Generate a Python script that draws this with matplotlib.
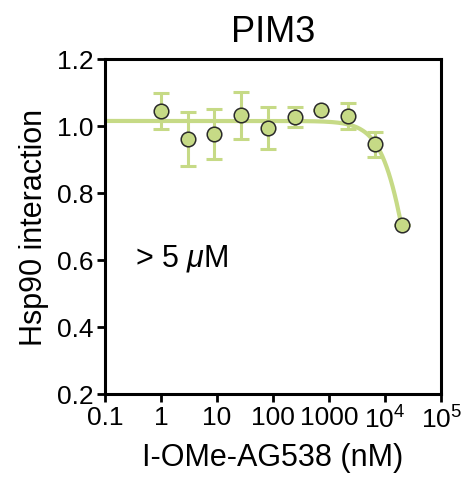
import matplotlib.pyplot as plt
import matplotlib as mpl
import numpy as np

mpl.rcParams['font.family'] = ['Liberation Sans', 'DejaVu Sans']
mpl.rcParams['mathtext.fontset'] = 'custom'
mpl.rcParams['mathtext.it'] = 'Liberation Sans:italic'
mpl.rcParams['mathtext.rm'] = 'Liberation Sans'

# concentration (nM), 3-fold dilution series
conc = [1, 3, 9, 27, 81, 243, 729, 2187, 6561, 19683]
signal = [1.044, 0.962, 0.976, 1.032, 0.993, 1.026, 1.049, 1.030, 0.945, 0.704]
err = [0.053, 0.080, 0.075, 0.070, 0.063, 0.030, 0.0, 0.040, 0.037, 0.0]

# fitted dose-response parameters
fit_top = 1.015
fit_bottom = 0.0
fit_ic50 = 31340.0
fit_hill = 1.715

xticks = [0.1, 1, 10, 100, 1000, 1e4, 1e5]
xticklabels = ['0.1', '1', '10', '100', '1000', '10$^4$', '10$^5$']
yticks = [0.2, 0.4, 0.6, 0.8, 1.0, 1.2]

green = '#c6da86'

fig = plt.figure(figsize=(4.64, 4.81), dpi=100)
ax = fig.add_axes([0.2263, 0.1788, 0.7245, 0.6965])

xfit = np.logspace(-1, np.log10(conc[-1]), 300)
yfit = fit_bottom + (fit_top - fit_bottom) / (1 + (xfit / fit_ic50) ** fit_hill)
ax.plot(xfit, yfit, color=green, lw=3, zorder=2, solid_capstyle='round')

ax.errorbar(conc, signal, yerr=err, fmt='none', ecolor=green, elinewidth=2.2,
            capsize=5.5, capthick=2.2, zorder=1)
ax.plot(conc, signal, 'o', ms=10.5, mfc=green, mec='#2a2a2a', mew=1.1, zorder=3)

ax.set_xscale('log')
ax.set_xlim(0.1, 1e5)
ax.set_ylim(0.2, 1.2)
ax.set_xticks(xticks)
ax.set_xticklabels(xticklabels)
ax.xaxis.set_minor_locator(mpl.ticker.NullLocator())
ax.set_yticks(yticks)
ax.set_yticklabels([f'{v:.1f}' for v in yticks])

for s in ax.spines.values():
    s.set_linewidth(2.2)
ax.tick_params(axis='both', which='major', direction='out', length=6, width=2,
               labelsize=19, colors='black', pad=2)

ax.set_xlabel('I-OMe-AG538 (nM)', fontsize=22, labelpad=7)
ax.set_ylabel('Hsp90 interaction', fontsize=22, labelpad=6)
ax.set_title('PIM3', fontsize=26, pad=13)

ax.text(0.09, 0.385, r'> 5 $\mathit{\mu}$M', transform=ax.transAxes, fontsize=22,
        ha='left', va='baseline')

fig.savefig('out.png', dpi=100)
